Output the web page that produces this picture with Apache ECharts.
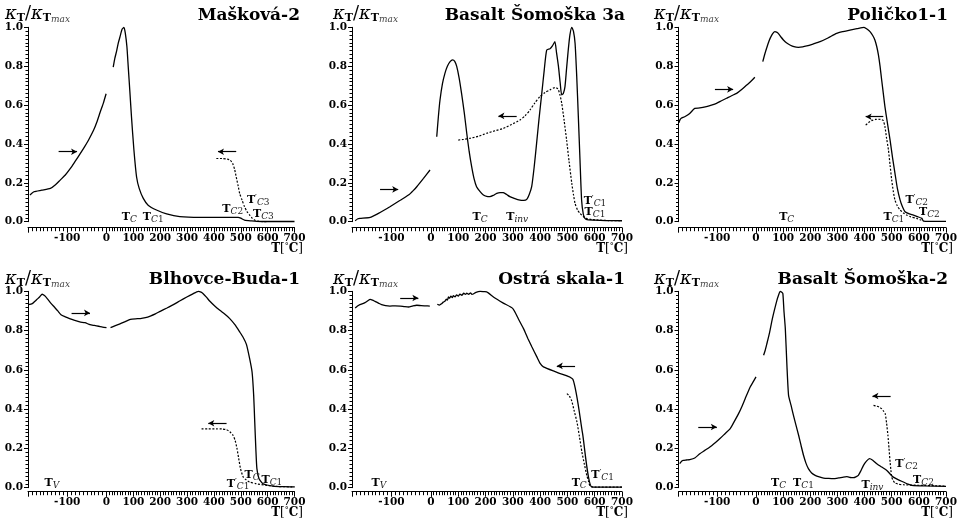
<!DOCTYPE html>
<html>
<head>
<meta charset="utf-8">
<script src="https://cdn.jsdelivr.net/npm/echarts@6/dist/echarts.min.js"></script>
<style>
  html, body { margin: 0; padding: 0; background: #fff; }
  #chart { width: 960px; height: 524px; }
</style>
</head>
<body>
<div id="chart"></div>
<script>
// [T in degC, kappa/kappa_max]  low = heating below 0, high = heating above 0, cool = cooling (dotted)
const maskovaLow = [[-195,0.137],[-185,0.154],[-165,0.162],[-143,0.171],[-130,0.19],[-118,0.214],[-105,0.24],[-92,0.274],[-80,0.31],[-67,0.35],[-56,0.385],[-46,0.419],[-33,0.47],[-25,0.51],[-16,0.564],[-8,0.61],[-1,0.658]]
const maskovaHigh = [[25,0.795],[31,0.84],[38,0.88],[44,0.92],[50,0.95],[58,0.99],[65,1.0],[70,0.97],[76,0.9],[81,0.795],[87,0.67],[93,0.54],[102,0.37],[112,0.23],[122,0.17],[137,0.12],[155,0.085],[186,0.06],[224,0.04],[273,0.026],[347,0.022],[420,0.022],[490,0.022],[500,0.018],[514,0.008],[540,0.004],[560,0.002],[600,0.001],[700,0.001]]
const maskovaCool = [[409,0.325],[430,0.325],[450,0.322],[459,0.318],[465,0.31],[471,0.295],[477,0.27],[483,0.23],[490,0.185],[496,0.145],[505,0.11],[514,0.077],[523,0.052],[533,0.034],[542,0.018],[551,0.009],[562,0.003],[575,0.001],[600,0.0]]
const maskovaLabels = [['T_C',85,0.025],['T_C1',174,0.025],['T_C2',470,0.063],["T'_C3",565,0.111],['T_C3',584,0.038]]
const maskovaTicks = [131,220,518,555]
const maskovaArrows = [[-122,-75,0.36],[483,415,0.36]]

const somoska3aLow = [[-192,0.005],[-185,0.015],[-180,0.017],[-154,0.022],[-133,0.043],[-118,0.06],[-104,0.077],[-90,0.095],[-78,0.11],[-57,0.137],[-45,0.16],[-36,0.18],[-19,0.223],[-2.5,0.266]]
const somoska3aHigh = [[21,0.437],[27,0.54],[33,0.626],[42,0.71],[51,0.763],[60,0.8],[70,0.823],[79,0.832],[87,0.825],[94,0.8],[103,0.74],[112,0.66],[122,0.56],[131,0.455],[140,0.36],[149,0.283],[158,0.22],[167,0.18],[180,0.155],[192,0.137],[204,0.13],[216,0.129],[228,0.135],[241,0.146],[253,0.15],[265,0.149],[277,0.14],[289,0.129],[305,0.12],[326,0.111],[340,0.11],[351,0.115],[360,0.14],[369,0.18],[378,0.28],[387,0.403],[396,0.53],[406,0.66],[415,0.78],[424,0.883],[436,0.89],[445,0.905],[454,0.926],[460,0.87],[467,0.8],[473,0.72],[479,0.652],[485,0.66],[491,0.695],[497,0.79],[503,0.883],[509,0.96],[516,1.0],[522,0.98],[528,0.918],[534,0.75],[540,0.54],[546,0.32],[552,0.11],[558,0.04],[564,0.017],[576,0.009],[600,0.008],[640,0.006],[700,0.005]]
const somoska3aCool = [[100,0.42],[120,0.424],[143,0.429],[175,0.44],[204,0.455],[235,0.468],[265,0.48],[295,0.5],[326,0.523],[345,0.545],[363,0.575],[380,0.61],[399,0.643],[418,0.665],[436,0.678],[454,0.69],[462,0.687],[467,0.678],[473,0.65],[479,0.61],[488,0.52],[497,0.42],[506,0.31],[516,0.197],[522,0.14],[528,0.094],[537,0.06],[546,0.043],[558,0.027],[570,0.017],[590,0.011],[607,0.009],[650,0.006],[700,0.005]]
const somoska3aLabels = [['T_C',180,0.025],['T_inv',316,0.025],["T'_C1",601,0.108],['T_C1',601,0.051]]
const somoska3aTicks = [226,365,576]
const somoska3aArrows = [[-129,-83,0.166],[314,247,0.544]]

const polickoLow = [[-199,0.509],[-196,0.525],[-193,0.532],[-184,0.54],[-171,0.557],[-158,0.583],[-145,0.585],[-128,0.592],[-115,0.6],[-102,0.609],[-89,0.622],[-76,0.635],[-63,0.648],[-50,0.66],[-37,0.68],[-24,0.703],[-13,0.722],[-3,0.743]]
const polickoHigh = [[25,0.823],[32,0.86],[39,0.892],[48,0.93],[58,0.96],[66,0.975],[70,0.978],[76,0.975],[82,0.969],[92,0.95],[101,0.935],[112,0.92],[125,0.909],[140,0.9],[156,0.897],[172,0.899],[187,0.904],[210,0.914],[236,0.926],[265,0.945],[297,0.969],[320,0.978],[346,0.986],[372,0.993],[398,1.0],[410,0.99],[420,0.978],[430,0.958],[438,0.935],[445,0.9],[451,0.858],[457,0.8],[463,0.729],[469,0.66],[475,0.592],[485,0.5],[494,0.42],[503,0.33],[512,0.249],[521,0.17],[531,0.111],[540,0.075],[549,0.051],[565,0.04],[580,0.034],[595,0.026],[611,0.017],[617,0.003],[640,0.002],[700,0.002]]
const polickoCool = [[404,0.497],[415,0.51],[426,0.52],[440,0.526],[451,0.527],[462,0.525],[469,0.52],[475,0.489],[481,0.43],[488,0.369],[494,0.29],[500,0.214],[506,0.155],[512,0.111],[521,0.08],[531,0.06],[543,0.045],[555,0.034],[570,0.025],[592,0.017],[605,0.01],[617,0.005]]
const polickoLabels = [['T_C',113,0.025],['T_C1',508,0.025],["T'_C2",592,0.11],['T_C2',639,0.05]]
const polickoTicks = [140,559,614]
const polickoArrows = [[-106,-59,0.681],[469,404,0.54]]

const blhovceLow = [[-199,0.932],[-189,0.937],[-183,0.948],[-177,0.959],[-170,0.972],[-164,0.985],[-158,0.978],[-151,0.963],[-142,0.94],[-133,0.92],[-124,0.9],[-116,0.881],[-105,0.87],[-94,0.861],[-81,0.852],[-68,0.844],[-55,0.84],[-42,0.83],[-31,0.826],[-20,0.822],[-10,0.818],[0,0.815]]
const blhovceHigh = [[15,0.815],[33,0.825],[52,0.835],[70,0.846],[89,0.857],[108,0.86],[126,0.861],[145,0.866],[163,0.874],[182,0.885],[200,0.898],[225,0.915],[249,0.932],[274,0.952],[299,0.971],[320,0.986],[342,1.0],[352,0.996],[360,0.988],[372,0.97],[385,0.949],[403,0.925],[422,0.903],[440,0.884],[459,0.861],[478,0.83],[496,0.793],[509,0.765],[521,0.73],[533,0.657],[542,0.589],[548,0.47],[552,0.334],[556,0.2],[560,0.097],[568,0.046],[583,0.02],[620,0.008],[660,0.005],[700,0.004]]
const blhovceCool = [[354,0.3],[380,0.3],[410,0.3],[430,0.299],[447,0.295],[459,0.285],[471,0.267],[479,0.24],[486,0.199],[492,0.15],[499,0.097],[509,0.054],[520,0.04],[533,0.029],[558,0.02],[595,0.012],[640,0.006],[700,0.004]]
const blhovceLabels = [['T_V',-139,0.025],["T'_C1",490,0.02],['T_C',542,0.066],['T_C1',616,0.037]]
const blhovceTicks = [-158,531,562,595]
const blhovceArrows = [[-89,-42,0.89],[447,379,0.328]]

const ostraLow = [[-192,0.915],[-186,0.925],[-180,0.932],[-167,0.942],[-160,0.952],[-154,0.959],[-148,0.955],[-142,0.949],[-133,0.94],[-125,0.932],[-115,0.927],[-104,0.925],[-91,0.926],[-78,0.925],[-67,0.922],[-57,0.92],[-47,0.925],[-36,0.929],[-25,0.927],[-14,0.926],[-3,0.925]]
const ostraHigh = [[23,0.934],[31,0.93],[39,0.937],[45,0.945],[51,0.949],[56,0.96],[60,0.955],[64,0.971],[68,0.965],[73,0.975],[78,0.968],[82,0.978],[88,0.972],[94,0.982],[100,0.976],[106,0.986],[113,0.98],[120,0.99],[126,0.984],[131,0.99],[138,0.985],[145,0.992],[150,0.984],[155,0.986],[165,0.995],[180,1.0],[195,0.998],[204,0.997],[230,0.97],[265,0.94],[300,0.912],[320,0.86],[339,0.81],[355,0.76],[370,0.716],[388,0.666],[400,0.633],[412,0.615],[466,0.585],[520,0.552],[555,0.28],[590,0.003],[650,0.003],[700,0.003]]
const ostraCool = [[498,0.479],[505,0.47],[510,0.46],[516,0.441],[525,0.39],[535,0.334],[544,0.26],[553,0.182],[562,0.12],[571,0.063],[578,0.03],[583,0.008],[600,0.003],[700,0.003]]
const ostraLabels = [['T_V',-132,0.025],['T_C',543,0.025],["T'_C1",629,0.063]]
const ostraTicks = [-153,593]
const ostraArrows = [[-78,-32,0.966],[528,461,0.62]]

const somoska2Low = [[-197,0.122],[-192,0.135],[-188,0.139],[-180,0.141],[-171,0.143],[-158,0.151],[-145,0.173],[-132,0.19],[-119,0.207],[-106,0.228],[-93,0.25],[-80,0.275],[-67,0.3],[-58,0.33],[-45,0.377],[-36,0.415],[-28,0.453],[-15,0.513],[-7,0.54],[0,0.564]]
const somoska2High = [[28,0.674],[34,0.7],[40,0.733],[50,0.79],[59,0.852],[68,0.905],[77,0.954],[83,0.98],[89,1.0],[95,0.995],[99,0.988],[103,0.9],[108,0.81],[114,0.62],[120,0.47],[129,0.42],[138,0.368],[147,0.32],[157,0.267],[166,0.215],[175,0.165],[184,0.125],[193,0.097],[205,0.075],[218,0.063],[233,0.055],[249,0.049],[268,0.047],[285,0.046],[305,0.05],[322,0.054],[335,0.056],[347,0.052],[359,0.051],[368,0.055],[377,0.063],[386,0.085],[396,0.114],[407,0.135],[418,0.148],[430,0.14],[445,0.122],[463,0.105],[482,0.088],[494,0.07],[506,0.054],[525,0.04],[543,0.029],[560,0.018],[574,0.012],[620,0.009],[700,0.007]]
const somoska2Cool = [[433,0.419],[445,0.415],[455,0.41],[463,0.402],[470,0.39],[476,0.377],[481,0.33],[486,0.267],[490,0.2],[494,0.131],[497,0.09],[500,0.054],[506,0.035],[512,0.024],[525,0.018],[543,0.015],[580,0.013],[616,0.012],[660,0.01],[700,0.008]]
const somoska2Labels = [['T_C',83,0.025],['T_C1',175,0.025],['T_inv',429,0.015],["T'_C2",555,0.122],['T_C2',617,0.037]]
const somoska2Ticks = [132,221,380,541,574]
const somoska2Arrows = [[-149,-101,0.309],[496,429,0.467]]

const names = ['Mašková-2', 'Basalt Šomoška 3a', 'Poličko1-1', 'Blhovce-Buda-1', 'Ostrá skala-1', 'Basalt Šomoška-2']
const xLabelsLow = [-100]

const panels = [
  { low: maskovaLow, high: maskovaHigh, cool: maskovaCool, labels: maskovaLabels, ticks: maskovaTicks, arrows: maskovaArrows },
  { low: somoska3aLow, high: somoska3aHigh, cool: somoska3aCool, labels: somoska3aLabels, ticks: somoska3aTicks, arrows: somoska3aArrows },
  { low: polickoLow, high: polickoHigh, cool: polickoCool, labels: polickoLabels, ticks: polickoTicks, arrows: polickoArrows },
  { low: blhovceLow, high: blhovceHigh, cool: blhovceCool, labels: blhovceLabels, ticks: blhovceTicks, arrows: blhovceArrows },
  { low: ostraLow, high: ostraHigh, cool: ostraCool, labels: ostraLabels, ticks: ostraTicks, arrows: ostraArrows },
  { low: somoska2Low, high: somoska2High, cool: somoska2Cool, labels: somoska2Labels, ticks: somoska2Ticks, arrows: somoska2Arrows }
]

// layout: [left edge (-200), zero, right edge (700)] per column; [y of 1.0, y of 0.0, gap down to x axis] per row
const cols = [[28, 106.5, 294.5], [352, 431, 622], [678.5, 756, 946]]
const rows = [[27.3, 221.7, 6], [291.3, 487.7, 4]]
const titleRight = [300, 625, 948]
const titleY = [16, 280]
const yNameX = [5, 333, 654]
const yNameY = [14, 279]
const unitRight = [303, 628, 953]

const FONT = 'DejaVu Serif'
const INK = '#000'

const annRich = {
  b: { fontFamily: FONT, fontWeight: 'bold', fontSize: 11, lineHeight: 14, color: INK },
  p: { fontFamily: FONT, fontSize: 8, verticalAlign: 'top', lineHeight: 8, color: INK },
  s: { fontFamily: FONT, fontStyle: 'italic', fontSize: 9, verticalAlign: 'bottom', lineHeight: 10, color: '#222' },
  n: { fontFamily: FONT, fontSize: 9, verticalAlign: 'bottom', lineHeight: 10, color: '#222' }
}

// 'T_C1' -> rich text: bold T, optional prime, italic letters and upright digits below
function texLabel(s) {
  const [head, sub] = s.split('_')
  let out = '{b|T}'
  if (head.includes("'")) out += '{p|\u2032}'
  const m = sub.match(/^([A-Za-z]+)(\d*)$/)
  out += '{s|' + m[1] + '}'
  if (m[2]) out += '{n|' + m[2] + '}'
  return out
}

function xAx(gridIndex, min, max, offset, formatter) {
  return {
    gridIndex, type: 'value', min, max, interval: 100, offset, position: 'bottom',
    axisLine: { show: true, onZero: false, lineStyle: { color: INK, width: 1 } },
    axisTick: { show: true, length: 5, lineStyle: { color: INK, width: 1 } },
    minorTick: { show: true, splitNumber: 10, length: 3.5, lineStyle: { color: INK, width: 1 } },
    splitLine: { show: false },
    axisLabel: { show: true, margin: 5, formatter, fontFamily: FONT, fontWeight: 'bold', fontSize: 10.5, color: INK }
  }
}

function yAx(gridIndex, show) {
  return {
    gridIndex, type: 'value', min: 0, max: 1, interval: 0.2, show, position: 'left',
    axisLine: { show: true, onZero: false, lineStyle: { color: INK, width: 1 } },
    axisTick: { show: true, length: 4, lineStyle: { color: INK, width: 1 } },
    minorTick: { show: true, splitNumber: 10, length: 2.5, lineStyle: { color: INK, width: 1 } },
    splitLine: { show: false },
    axisLabel: { margin: 5, formatter: v => v.toFixed(1), fontFamily: FONT, fontWeight: 'bold', fontSize: 10.5, color: INK }
  }
}

function curve(gridIndex, data, dotted) {
  return {
    type: 'line', xAxisIndex: gridIndex, yAxisIndex: gridIndex, data,
    showSymbol: false, symbol: 'none', smooth: 0.2, clip: false, silent: true,
    lineStyle: dotted
      ? { color: INK, width: 1.2, type: [2, 1.6] }
      : { color: INK, width: 1.3 }
  }
}

const grid = [], xAxis = [], yAxis = [], series = [], graphic = []

panels.forEach((p, i) => {
  const c = cols[i % 3]
  const r = rows[Math.floor(i / 3)]
  const h = r[1] - r[0]
  const gL = grid.length, gR = gL + 1
  grid.push({ left: c[0], top: r[0], width: c[1] - c[0], height: h, containLabel: false, outerBoundsMode: 'none' })
  grid.push({ left: c[1], top: r[0], width: c[2] - c[1], height: h, containLabel: false, outerBoundsMode: 'none' })
  xAxis.push(xAx(gL, -200, 0, r[2], v => (xLabelsLow.includes(v) ? String(v) : '')))
  xAxis.push(xAx(gR, 0, 700, r[2], v => String(v)))
  yAxis.push(yAx(gL, true))
  yAxis.push(yAx(gR, false))

  const axisV = -r[2] / h
  const tickTopV = axisV + 7 / h
  const tickLines = side => p.ticks.filter(t => (t < 0) === side)
    .map(t => [{ coord: [t, axisV] }, { coord: [t, tickTopV] }])
  // short piece joining the y axis down to the lowered x axis
  const corner = [[{ coord: [-200, axisV] }, { coord: [-200, 0] }]]
  const arrowLines = side => p.arrows.filter(a => (a[0] < 0) === side)
    .map(a => [{ coord: [a[0], a[2]] }, { coord: [a[1], a[2]] }])
  const labelPts = side => p.labels.filter(l => (l[1] < 0) === side)
    .map(l => ({ name: texLabel(l[0]), coord: [l[1], l[2]] }))

  const markPoint = data => ({
    symbol: 'circle', symbolSize: 1, silent: true, animation: false,
    itemStyle: { color: 'rgba(0,0,0,0)' },
    label: { show: true, position: 'inside', formatter: q => q.name, rich: annRich },
    data
  })
  const markTicks = data => ({
    symbol: 'none', silent: true, animation: false,
    lineStyle: { color: INK, width: 1, type: 'solid' }, label: { show: false }, data
  })
  const markArrows = data => ({
    symbol: ['none', 'arrow'], symbolSize: [5, 6], silent: true, animation: false,
    lineStyle: { color: INK, width: 1.2, type: 'solid' }, label: { show: false }, data
  })

  const low = curve(gL, p.low, false)
  low.markPoint = markPoint(labelPts(true))
  low.markLine = markTicks(tickLines(true).concat(corner))
  series.push(low)
  // heating arrow drawn on its own so both mark lines keep their own symbols
  series.push({ type: 'line', xAxisIndex: gL, yAxisIndex: gL, data: [], markLine: markArrows(arrowLines(true)) })

  const high = curve(gR, p.high, false)
  high.markPoint = markPoint(labelPts(false))
  high.markLine = markTicks(tickLines(false))
  series.push(high)

  const cool = curve(gR, p.cool, true)
  cool.markLine = markArrows(arrowLines(false))
  series.push(cool)

  const row = Math.floor(i / 3), col = i % 3
  graphic.push({
    type: 'text', x: titleRight[col], y: titleY[row], silent: true,
    style: { text: names[i], align: 'right', verticalAlign: 'middle', fontFamily: FONT, fontWeight: 'bold', fontSize: 17, fill: INK }
  })
  graphic.push({
    type: 'text', x: yNameX[col], y: yNameY[row], silent: true,
    style: {
      text: '{k|\u03ba}{t|T}{sl|/}{k|\u03ba}{t|T}{m|max}', align: 'left', verticalAlign: 'middle',
      rich: {
        k: { fontFamily: FONT, fontStyle: 'italic', fontSize: 18, lineHeight: 20, fill: INK },
        t: { fontFamily: FONT, fontWeight: 'bold', fontSize: 11, verticalAlign: 'bottom', lineHeight: 12, fill: INK },
        sl: { fontFamily: FONT, fontSize: 18, lineHeight: 20, fill: INK },
        m: { fontFamily: FONT, fontStyle: 'italic', fontSize: 9, verticalAlign: 'bottom', lineHeight: 9, fill: '#444' }
      }
    }
  })
  graphic.push({
    type: 'text', x: unitRight[col], y: r[1] + r[2] + 21, silent: true,
    style: {
      text: '{b|T}{n|[}{d|\u00b0}{b|C}{n|]}', align: 'right', verticalAlign: 'middle',
      rich: {
        b: { fontFamily: FONT, fontWeight: 'bold', fontSize: 12, lineHeight: 14, fill: INK },
        n: { fontFamily: FONT, fontSize: 12, lineHeight: 14, fill: INK },
        d: { fontFamily: FONT, fontSize: 8, verticalAlign: 'top', lineHeight: 8, fill: INK }
      }
    }
  })
})

const chart = echarts.init(document.getElementById('chart'), null, { renderer: 'canvas' })
chart.setOption({
  backgroundColor: '#fff',
  animation: false,
  grid, xAxis, yAxis, series, graphic
})
</script>
</body>
</html>
